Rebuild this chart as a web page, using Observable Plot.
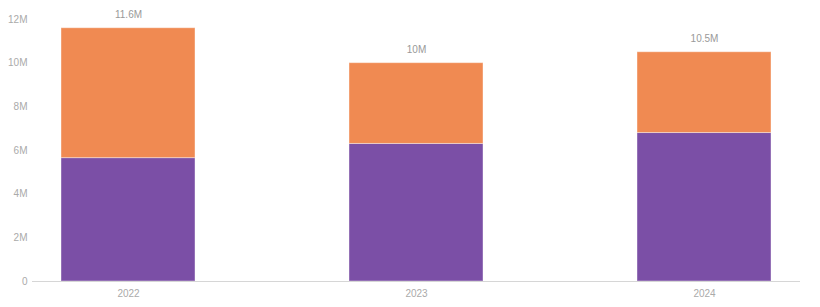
<!DOCTYPE html>
<html>
<head>
<meta charset="utf-8">
<script src="https://cdn.jsdelivr.net/npm/d3@7"></script>
<script src="https://cdn.jsdelivr.net/npm/@observablehq/plot@0.6"></script>
<style>
html,body{margin:0;padding:0;background:#fff;}
svg{font-family:"Liberation Sans",Arial,sans-serif;}
</style>
</head>
<body>
<div id="chart"></div>
<script>
const years = ["2022", "2023", "2024"];
const seriesA = [5.65, 6.3, 6.8];   // purple (bottom), millions
const seriesB = [5.95, 3.7, 3.7];   // orange (top), millions
const totalLabels = ["11.6M", "10M", "10.5M"];
const yTicks = [0, 2, 4, 6, 8, 10, 12];
const seriesNames = ["A", "B"];
const colors = ["#7B4FA6", "#F08A52"];

const rows = [];
years.forEach((y, i) => {
  rows.push({year: y, series: "A", value: seriesA[i] * 1e6});
  rows.push({year: y, series: "B", value: seriesB[i] * 1e6});
});
const totals = years.map((y, i) => ({year: y, total: (seriesA[i] + seriesB[i]) * 1e6, label: totalLabels[i]}));

const chart = Plot.plot({
  width: 820,
  height: 307,
  marginTop: 19,
  marginBottom: 26,
  marginLeft: 32,
  marginRight: 20,
  style: {fontSize: "10px", color: "#aaa"},
  x: {domain: years, paddingInner: 0.535, paddingOuter: 0.1, label: null, tickSize: 0, tickPadding: 8},
  y: {domain: [0, 12e6], ticks: yTicks.map(d => d * 1e6), tickFormat: d => d === 0 ? "0" : d / 1e6 + "M", label: null, tickSize: 0, tickPadding: 5},
  color: {domain: seriesNames, range: colors},
  marks: [
    Plot.gridY(yTicks.map(d => d * 1e6), {stroke: "#e6e6e6", strokeOpacity: 1, x1: 32, x2: 800}),
    Plot.barY(rows, Plot.stackY({x: "year", y: "value", fill: "series", order: seriesNames, stroke: "#ffffff", strokeOpacity: 0.4, strokeWidth: 1})),
    Plot.ruleY([0], {stroke: "#d6d6d6"}),
    Plot.text(totals, {x: "year", y: "total", text: "label", dy: -13, fill: "#999", fontSize: 10})
  ]
});
document.getElementById("chart").appendChild(chart);
</script>
</body>
</html>
